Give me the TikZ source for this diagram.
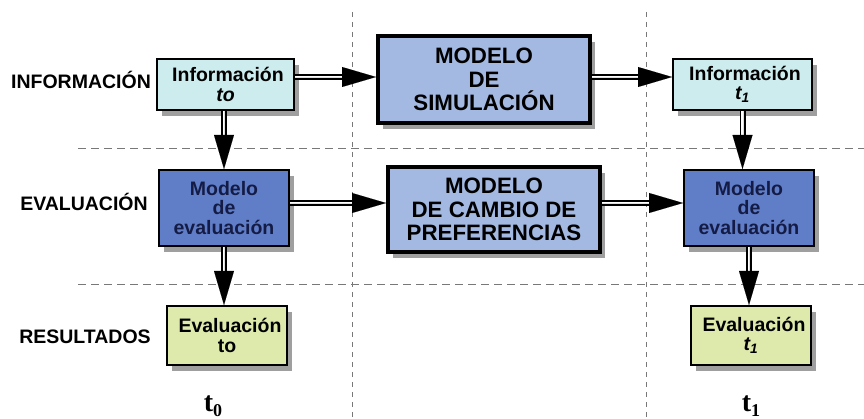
\documentclass[tikz,border=0pt]{standalone}
\usepackage{fontspec}
\setmainfont{Liberation Sans}
\newfontfamily\tser{Liberation Serif}
\usetikzlibrary{arrows.meta,shadows,calc}
\definecolor{infofill}{RGB}{205,236,238}
\definecolor{bigfill}{RGB}{163,185,226}
\definecolor{evalfill}{RGB}{96,126,200}
\definecolor{resfill}{RGB}{222,233,172}
\definecolor{evaltext}{RGB}{20,28,70}
\definecolor{dashgray}{RGB}{120,120,120}
\begin{document}
\begin{tikzpicture}[x=1pt,y=-1pt,
  shadowed/.style={drop shadow={shadow xshift=5pt,shadow yshift=-6pt,fill=gray!75,opacity=1}},
  smallbox/.style={draw=black,line width=2pt,inner sep=0pt,align=center,shadowed,
     font=\fontsize{19.5}{19.5}\selectfont\bfseries},
  bigbox/.style={draw=black,line width=4pt,inner sep=0pt,align=center,shadowed,fill=bigfill,
     minimum width=212pt,font=\fontsize{22.3}{23.5}\selectfont\bfseries},
  infobox/.style={smallbox,fill=infofill,minimum width=137pt,minimum height=51pt},
  evalbox/.style={smallbox,fill=evalfill,text=evaltext,minimum width=130pt,minimum height=76pt},
  resbox/.style={smallbox,fill=resfill,minimum width=120pt,minimum height=59pt},
  rowlabel/.style={font=\fontsize{19.5}{20}\selectfont\bfseries,inner sep=0pt},
  timelabel/.style={font=\tser\bfseries\fontsize{28}{28}\selectfont,inner sep=0pt,anchor=base},
  hdash/.style={draw=dashgray,line width=0.9pt,dash pattern=on 8pt off 5pt},
  vdash/.style={draw=dashgray,line width=0.9pt,dash pattern=on 5pt off 5pt},
  shaft/.style={draw=black,line width=1.8pt,double=white,double distance=2.4pt,shorten >=33pt},
  tipline/.style={draw=black,line width=0.01pt,-{Triangle[length=34pt,width=20pt]}}
]
\useasboundingbox (0,0) rectangle (864,419);

% grid of dashed lines
\coordinate (h1l) at (78,148);  \coordinate (h1r) at (864,148);
\coordinate (h2l) at (78,284);  \coordinate (h2r) at (864,284);
\coordinate (v1t) at (352,12);  \coordinate (v1b) at (352,419);
\coordinate (v2t) at (646,12);  \coordinate (v2b) at (646,419);
\draw[hdash] (h1l) -- (h1r);
\draw[hdash] (h2l) -- (h2r);
\draw[vdash] (v1t) -- (v1b);
\draw[vdash] (v2t) -- (v2b);

% row labels
\node[rowlabel] (lInfo) at (81,79.5) {INFORMACIÓN};
\node[rowlabel] (lEval) at (84,202) {EVALUACIÓN};
\node[rowlabel] (lRes)  at (85,337) {RESULTADOS};

% boxes
\node[infobox] (i0) at (225.5,84.5) {\hspace*{5pt}Información\\\textit{to}};
\node[bigbox,minimum height=87pt] (ms) at (484,79.5) {MODELO\\DE\\SIMULACIÓN};
\node[infobox,minimum width=139pt] (i1) at (742.5,84.5) {\hspace*{5pt}Información\\\textit{t\textsubscript{1}}};

\node[evalbox] (e0) at (224,208) {Modelo\\de\\evaluación};
\node[bigbox,minimum height=85pt] (cb) at (494,209.5) {MODELO\\DE CAMBIO DE\\PREFERENCIAS};
\node[evalbox] (e1) at (749,208) {Modelo\\de\\evaluación};

\node[resbox] (r0) at (227,335.5) {\hspace*{6pt}Evaluación\\to};
\node[resbox] (r1) at (751,335.5) {\hspace*{6pt}Evaluación\\\textit{t\textsubscript{1}}};

% time labels
\node[timelabel] (t0) at (213,411) {t\raisebox{-5pt}{\fontsize{18}{18}\selectfont 0}};
\node[timelabel] (t1) at (751,411) {t\raisebox{-5pt}{\fontsize{18}{18}\selectfont 1}};

% arrow rows
\coordinate (yA) at (0,77);
\coordinate (yB) at (0,203);

\draw[shaft]   (i0.east |- yA) -- (ms.west |- yA);
\draw[tipline] (i0.east |- yA) -- (ms.west |- yA);
\draw[shaft]   (ms.east |- yA) -- (i1.west |- yA);
\draw[tipline] (ms.east |- yA) -- (i1.west |- yA);

\draw[shaft]   (e0.east |- yB) -- (cb.west |- yB);
\draw[tipline] (e0.east |- yB) -- (cb.west |- yB);
\draw[shaft]   (cb.east |- yB) -- (e1.west |- yB);
\draw[tipline] (cb.east |- yB) -- (e1.west |- yB);

\draw[shaft]   (e0.north |- i0.south) -- (e0.north);
\draw[tipline] (e0.north |- i0.south) -- (e0.north);
\draw[shaft]   (i1.south) -- (i1.south |- e1.north);
\draw[tipline] (i1.south) -- (i1.south |- e1.north);

\draw[shaft]   (e0.south) -- (e0.south |- r0.north);
\draw[tipline] (e0.south) -- (e0.south |- r0.north);
\draw[shaft]   (e1.south) -- (e1.south |- r1.north);
\draw[tipline] (e1.south) -- (e1.south |- r1.north);
\end{tikzpicture}
\end{document}
